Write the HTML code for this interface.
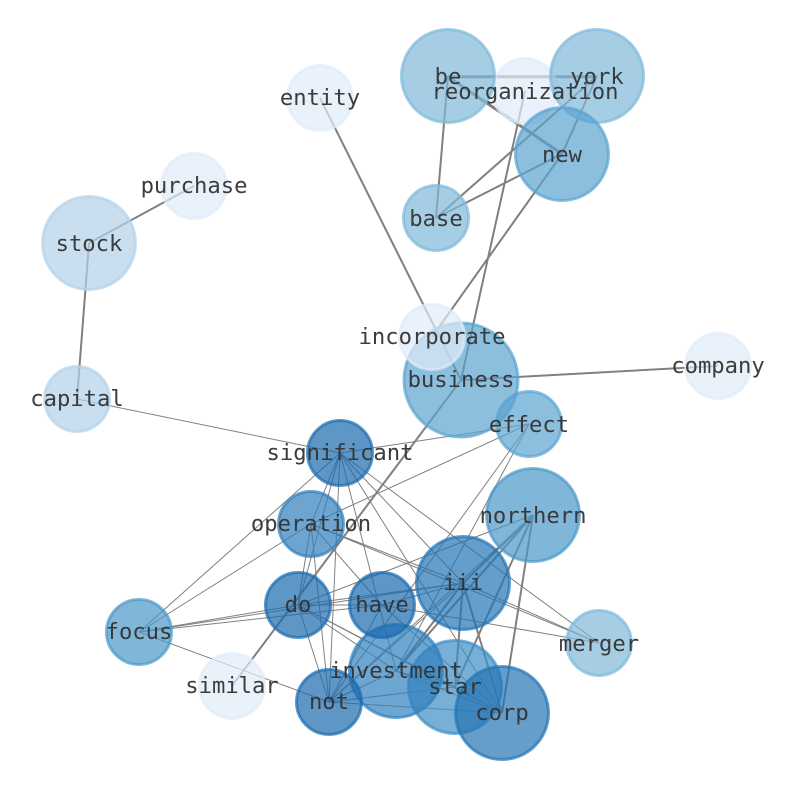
<!DOCTYPE html>
<html><head><meta charset="utf-8"><style>
html,body{margin:0;padding:0;background:#fff;width:794px;height:790px;overflow:hidden}
svg{display:block}
text{font-family:"DejaVu Sans Mono","Liberation Mono",monospace;font-size:22.2px;fill:#333;fill-opacity:.95;text-anchor:middle}
.t{stroke:#808080;stroke-width:1;fill:none}
.k{stroke:#808080;stroke-width:2;fill:none}
.x{stroke:#808080;stroke-width:3;fill:none}
circle{stroke-width:3;fill-opacity:.7;stroke-opacity:.7}
</style></head><body>
<svg width="794" height="790" viewBox="0 0 794 790" xmlns="http://www.w3.org/2000/svg">
<path class="x" d="M448 76.7L597 76.7M448 76.7L562 154"/>
<path class="k" d="M448 76L436 218M597 76L436 218M597 76L562 154M562 154L436 218M562 154L432 337M525 91L461 380M320 98L461 380M194 186L89 243M89 243L77 399M461 380L718 366M232 686L461 380"/>
<path class="k" d="M533 515L463 583M533 515L396 671M533 515L455 687M533 515L502 713M463 583L396 671M463 583L502 713M463 583L455 687"/>
<path class="t" d="M77 399L340 453M340 453L529 424M340 453L139 632M340 453L298 605M340 453L311 524M340 453L329 702M340 453L396 671M340 453L463 583M340 453L502 713M340 453L599 643"/>
<path class="t" d="M311 524L298 605M311 524L329 702M311 524L382 605M311 524L463 583M311 524L599 643M311 524L529 424M311 524L139 632"/>
<path class="t" d="M298 605L139 632M298 605L382 605M298 605L463 583M298 605L533 515M298 605L396 671M298 605L455 687M298 605L502 713M298 605L329 702"/>
<path class="t" d="M382 605L139 632M382 605L463 583M382 605L329 702M382 605L502 713M382 605L599 643"/>
<path class="t" d="M463 583L139 632M463 583L329 702M463 583L599 643"/>
<path class="t" d="M533 515L329 702M139 632L329 702M329 702L396 671M329 702L455 687M329 702L502 713M529 424L329 702M529 424L396 671M396 671L455 687M396 671L502 713M455 687L502 713"/>
<circle cx="320" cy="98" r="32.5" fill="#dfebf9" stroke="#dfebf9"/>
<circle cx="194" cy="186" r="32.5" fill="#dfebf9" stroke="#dfebf9"/>
<circle cx="525" cy="91" r="32.5" fill="#dfebf9" stroke="#dfebf9"/>
<circle cx="718" cy="366" r="32.5" fill="#dfebf9" stroke="#dfebf9"/>
<circle cx="232" cy="686" r="32.5" fill="#dfebf9" stroke="#dfebf9"/>
<circle cx="89" cy="243" r="46.5" fill="#b2d2e9" stroke="#b2d2e9"/>
<circle cx="77" cy="399" r="32.5" fill="#b2d2e9" stroke="#b2d2e9"/>
<circle cx="448" cy="76" r="46.5" fill="#7fb9da" stroke="#7fb9da"/>
<circle cx="597" cy="76" r="46.5" fill="#7fb9da" stroke="#7fb9da"/>
<circle cx="436" cy="218" r="32.5" fill="#7fb9da" stroke="#7fb9da"/>
<circle cx="599" cy="643" r="32.5" fill="#7fb9da" stroke="#7fb9da"/>
<circle cx="562" cy="154" r="46.5" fill="#5ba3d0" stroke="#5ba3d0"/>
<circle cx="461" cy="380" r="57" fill="#5ba3d0" stroke="#5ba3d0"/>
<circle cx="529" cy="424" r="32.5" fill="#5ba3d0" stroke="#5ba3d0"/>
<circle cx="432" cy="337" r="32.5" fill="#dfebf9" stroke="#dfebf9"/>
<circle cx="533" cy="515" r="46.5" fill="#4a98c9" stroke="#4a98c9"/>
<circle cx="139" cy="632" r="32.5" fill="#4a98c9" stroke="#4a98c9"/>
<circle cx="455" cy="687" r="46.5" fill="#3d8dc4" stroke="#3d8dc4"/>
<circle cx="396" cy="671" r="46.5" fill="#2f80bd" stroke="#2f80bd"/>
<circle cx="311" cy="524" r="32.5" fill="#2f7fbc" stroke="#2f7fbc"/>
<circle cx="463" cy="583" r="46.5" fill="#2373b5" stroke="#2373b5"/>
<circle cx="502" cy="713" r="46.5" fill="#2373b5" stroke="#2373b5"/>
<circle cx="340" cy="453" r="32.5" fill="#1a6aae" stroke="#1a6aae"/>
<circle cx="298" cy="605" r="32.5" fill="#1a6aae" stroke="#1a6aae"/>
<circle cx="382" cy="605" r="32.5" fill="#1a6aae" stroke="#1a6aae"/>
<circle cx="329" cy="702" r="32.5" fill="#1a6aae" stroke="#1a6aae"/>
<text x="448" y="84">be</text>
<text x="597" y="84">york</text>
<text x="525" y="99">reorganization</text>
<text x="562" y="162">new</text>
<text x="436" y="226">base</text>
<text x="320" y="105">entity</text>
<text x="194" y="193">purchase</text>
<text x="89" y="251">stock</text>
<text x="77" y="406">capital</text>
<text x="432" y="344">incorporate</text>
<text x="461" y="387">business</text>
<text x="718" y="373">company</text>
<text x="529" y="432">effect</text>
<text x="340" y="460">significant</text>
<text x="311" y="531">operation</text>
<text x="533" y="523">northern</text>
<text x="463" y="590">iii</text>
<text x="298" y="612">do</text>
<text x="382" y="612">have</text>
<text x="139" y="639">focus</text>
<text x="599" y="651">merger</text>
<text x="232" y="693">similar</text>
<text x="396" y="678">investment</text>
<text x="455" y="694">star</text>
<text x="329" y="709">not</text>
<text x="502" y="720">corp</text>
</svg>
</body></html>
